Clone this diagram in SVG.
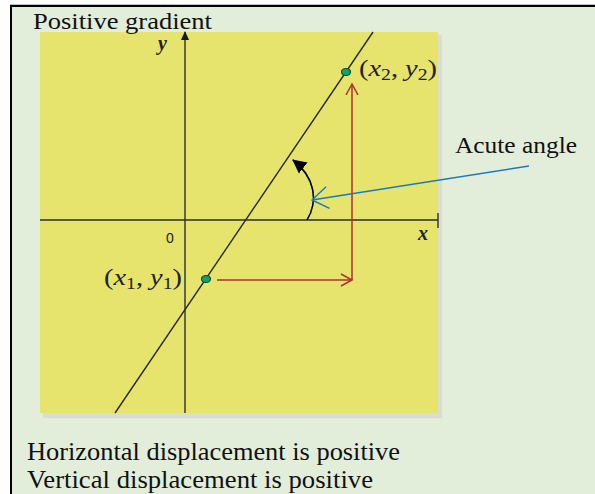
<svg xmlns="http://www.w3.org/2000/svg" width="595" height="494" viewBox="0 0 595 494">
<style>
.t{font-family:"Liberation Serif","Times New Roman",serif;fill:#111}
.lab{font-family:"Liberation Serif","Times New Roman",serif;fill:#222;font-size:23px}
.axl{font-family:"Liberation Serif","Times New Roman",serif;font-style:italic;font-weight:bold;font-size:20px;fill:#222}
.ax{stroke:#2e2e2e;stroke-width:1.4;fill:none}
.red{stroke:#b0302c;stroke-width:1.5;fill:none}
.dot{fill:#19a06a;stroke:#0c4a30;stroke-width:1.2}
</style>
<defs>
<marker id="openRed" markerWidth="14" markerHeight="14" refX="12" refY="7" orient="auto" markerUnits="userSpaceOnUse">
<path d="M1,1 L12,7 L1,13" fill="none" stroke="#b0302c" stroke-width="1.5"/>
</marker>
<marker id="openBlue" markerWidth="20" markerHeight="24" refX="17" refY="12" orient="auto" markerUnits="userSpaceOnUse">
<path d="M1,1 L17,12 L1,23" fill="none" stroke="#1a78c8" stroke-width="1.4"/>
</marker>
<marker id="solidBlack" markerWidth="16" markerHeight="16" refX="13" refY="8" orient="auto" markerUnits="userSpaceOnUse">
<path d="M0,1 L14,8 L0,15 Z" fill="#000"/>
</marker>
<marker id="axArrow" markerWidth="10" markerHeight="10" refX="8" refY="5" orient="auto" markerUnits="userSpaceOnUse">
<path d="M0,1 L9,5 L0,9 Z" fill="#1a1a1a"/>
</marker>
</defs>
<rect x="0" y="0" width="595" height="494" fill="#ffffff"/>
<rect x="11" y="6" width="584" height="488" fill="#e2eeda"/>
<line x1="10" y1="5.8" x2="595" y2="5.8" stroke="#000" stroke-width="2.2"/>
<line x1="11" y1="5" x2="11" y2="494" stroke="#000" stroke-width="2"/>
<g id="plot">
<rect x="43" y="35" width="399" height="383" fill="#dcdcd2"/>
<rect x="40" y="32" width="398" height="381" fill="#e6e46c"/>
</g>
<g id="axes">
<line class="ax" x1="185" y1="413" x2="185" y2="32" marker-end="url(#axArrow)"/>
<line class="ax" x1="40" y1="220" x2="438" y2="220"/>
<line class="ax" x1="438" y1="213" x2="438" y2="228"/>
<text class="axl" x="158" y="50">y</text>
<text class="axl" x="418" y="240">x</text>
<text x="166" y="243" font-family="Liberation Sans,Arial,sans-serif" font-size="14" fill="#222">0</text>
</g>
<g id="line">
<line x1="115" y1="413" x2="373" y2="32" stroke="#2a2a1a" stroke-width="1.4"/>
</g>
<g id="connectors">
<line class="red" x1="217" y1="280" x2="352" y2="280" marker-end="url(#openRed)"/>
<line class="red" x1="352" y1="280" x2="352" y2="84" marker-end="url(#openRed)"/>
<path d="M307,220 C318,202 316,178 293,160" fill="none" stroke="#000" stroke-width="1.6" marker-end="url(#solidBlack)"/>
<line x1="529" y1="166" x2="312" y2="200" stroke="#1a78c8" stroke-width="1.4" marker-end="url(#openBlue)"/>
</g>
<g id="p1">
<ellipse class="dot" cx="206" cy="279" rx="4.5" ry="3.5"/>
<text class="lab" x="104" y="285" textLength="78" lengthAdjust="spacingAndGlyphs">(<tspan font-style="italic">x</tspan><tspan font-size="16" dy="4">1</tspan><tspan dy="-4">, </tspan><tspan font-style="italic">y</tspan><tspan font-size="16" dy="4">1</tspan><tspan dy="-4">)</tspan></text>
</g>
<g id="p2">
<ellipse class="dot" cx="346" cy="72" rx="4.5" ry="3.5"/>
<text class="lab" x="359" y="76" textLength="78" lengthAdjust="spacingAndGlyphs">(<tspan font-style="italic">x</tspan><tspan font-size="16" dy="4">2</tspan><tspan dy="-4">, </tspan><tspan font-style="italic">y</tspan><tspan font-size="16" dy="4">2</tspan><tspan dy="-4">)</tspan></text>
</g>
<g id="labels">
<text class="t" x="33" y="29" font-size="24" textLength="179" lengthAdjust="spacingAndGlyphs">Positive gradient</text>
<text class="t" x="455" y="153" font-size="24" textLength="122" lengthAdjust="spacingAndGlyphs">Acute angle</text>
<text class="t" x="27" y="460" font-size="25" textLength="373" lengthAdjust="spacingAndGlyphs">Horizontal displacement is positive</text>
<text class="t" x="27" y="488" font-size="25" textLength="346" lengthAdjust="spacingAndGlyphs">Vertical displacement is positive</text>
</g>
</svg>
